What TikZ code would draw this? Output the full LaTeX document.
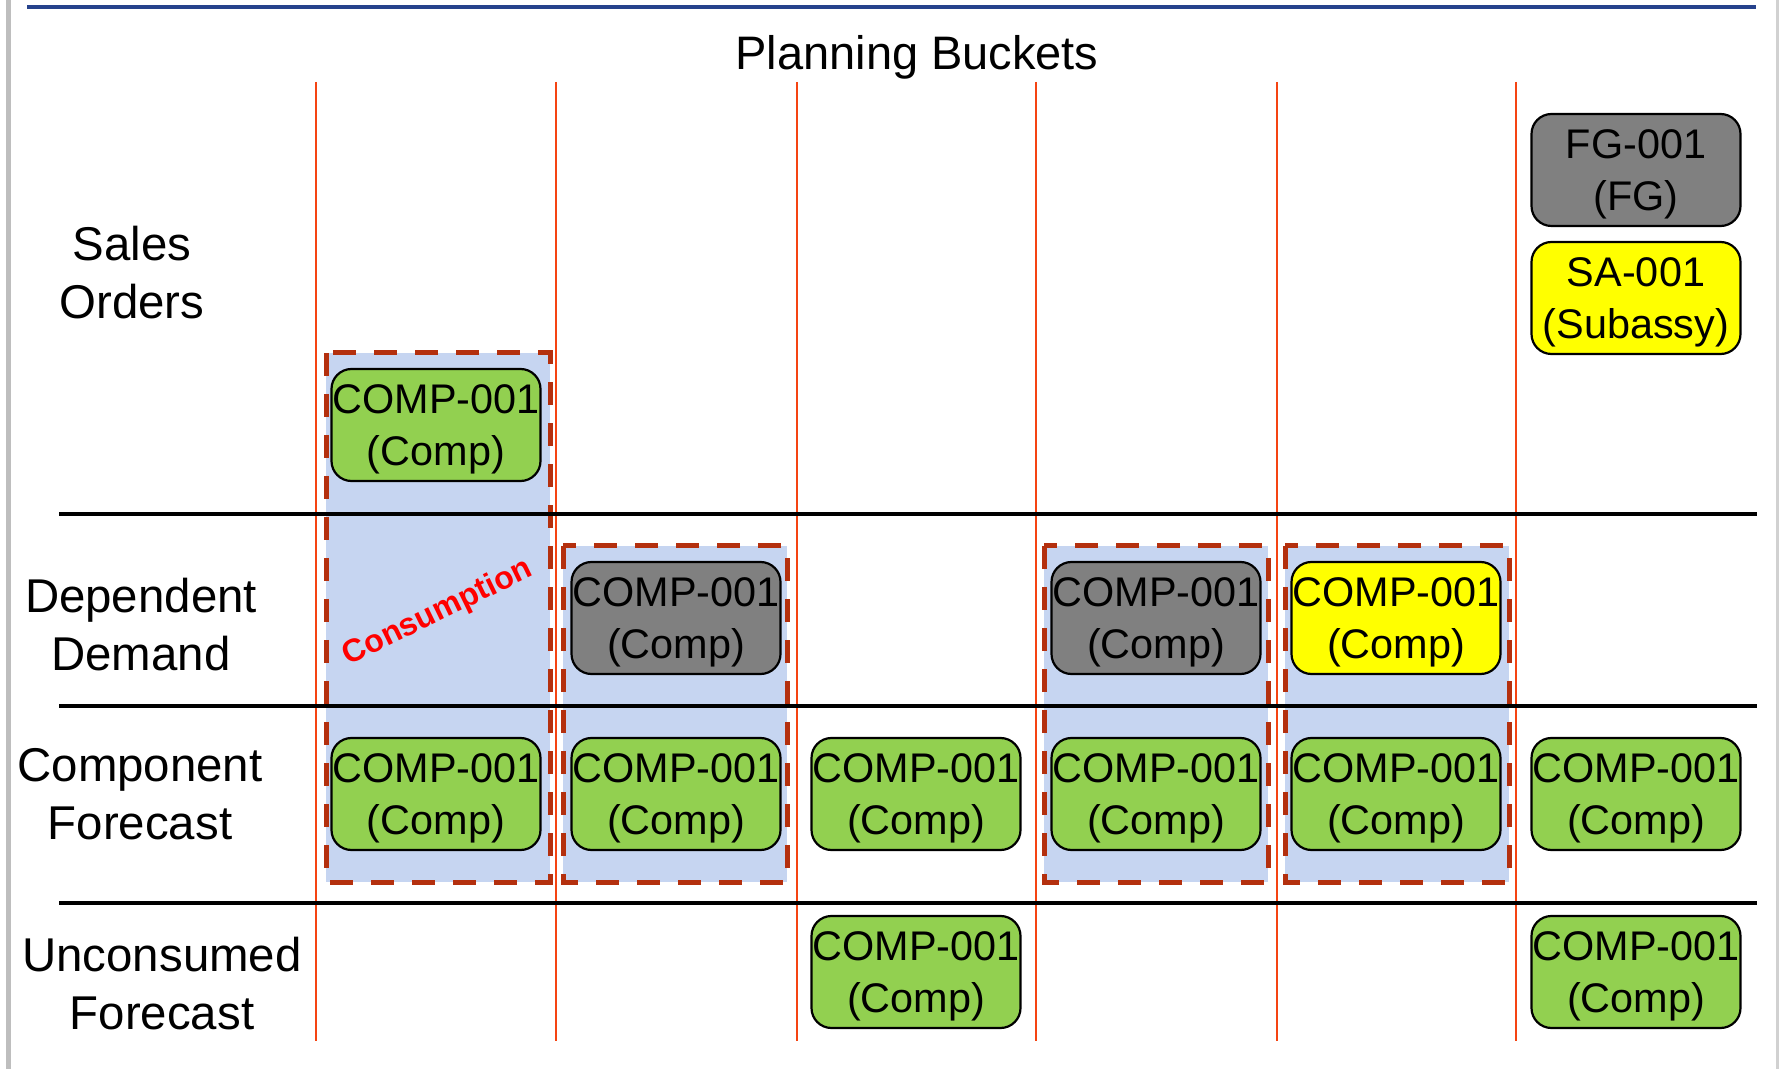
\documentclass[tikz,border=0pt]{standalone}
\usepackage{fontspec}
\setsansfont{Liberation Sans}
\usepackage{tikz}
\pgfdeclarelayer{background}
\pgfsetlayers{background,main}

\definecolor{boxGreen}{RGB}{146,208,80}
\definecolor{boxGray}{RGB}{128,128,128}
\definecolor{boxYellow}{RGB}{255,255,0}
\definecolor{consFill}{RGB}{198,213,241}
\definecolor{consEdge}{RGB}{180,48,14}
\definecolor{gridRed}{RGB}{245,68,18}
\definecolor{topBlue}{RGB}{38,66,140}
\definecolor{frameGray}{RGB}{190,190,190}

\begin{document}
\begin{tikzpicture}[x=0.5pt, y=-0.5pt]

    % Sans-serif text
    \sffamily

    % Page frame
    \useasboundingbox (0,0) rectangle (1779,1069);

    % Title and row labels
    \tikzset{tT/.style={anchor=base, font=\fontsize{23.5}{28}\selectfont}}
    \tikzset{rL/.style={align=center, text depth=0pt, font=\fontsize{23.7}{29}\selectfont}}

    % Order boxes
    \tikzset{bX/.style={draw=black, line width=1.1pt, rounded corners=10pt, inner sep=0pt,
        minimum width=104.5pt, minimum height=56pt, align=center, text depth=0pt,
        execute at begin node={\rule{0pt}{22pt}},
        font=\fontsize{20.7}{26}\selectfont}}
    \tikzset{bG/.style={bX, fill=boxGreen}}
    \tikzset{bK/.style={bX, fill=boxGray}}
    \tikzset{bY/.style={bX, fill=boxYellow}}

    % Consumption areas
    \tikzset{cR/.style={fill=consFill, draw=consEdge, line width=2.5pt, dash pattern=on 11.5pt off 9pt}}
    \tikzset{cT/.style={rotate=26, text=red, font=\bfseries\fontsize{16}{19}\selectfont}}

    % Grid lines
    \tikzset{gV/.style={draw=gridRed, line width=1pt}}
    \tikzset{gH/.style={draw=black, line width=1.6pt}}

    % Labels
    \node (title) [tT] at (917, 70) {Planning Buckets};
    \node (lSO) [rL] at (132, 272) {Sales\\Orders};
    \node (lDD) [rL] at (141, 624) {Dependent\\Demand};
    \node (lCF) [rL] at (140, 794) {Component\\Forecast};
    \node (lUF) [rL] at (162, 983) {Unconsumed\\Forecast};

    % Sales orders
    \node (fg) [bK] at (1636, 170) {FG-001\\(FG)};
    \node (sa) [bY] at (1636, 298) {SA-001\\(Subassy)};
    \node (so1) [bG] at (436, 425) {COMP-001\\(Comp)};

    % Dependent demand
    \node (dd2) [bK] at (676, 618) {COMP-001\\(Comp)};
    \node (dd4) [bK] at (1156, 618) {COMP-001\\(Comp)};
    \node (dd5) [bY] at (1396, 618) {COMP-001\\(Comp)};

    % Component forecast
    \node (cf1) [bG] at (436, 794) {COMP-001\\(Comp)};
    \node (cf2) [bG] at (676, 794) {COMP-001\\(Comp)};
    \node (cf3) [bG] at (916, 794) {COMP-001\\(Comp)};
    \node (cf4) [bG] at (1156, 794) {COMP-001\\(Comp)};
    \node (cf5) [bG] at (1396, 794) {COMP-001\\(Comp)};
    \node (cf6) [bG] at (1636, 794) {COMP-001\\(Comp)};

    % Unconsumed forecast
    \node (uf3) [bG] at (916, 972) {COMP-001\\(Comp)};
    \node (uf6) [bG] at (1636, 972) {COMP-001\\(Comp)};

    % Consumption label
    \node (cons) [cT] at (438, 613) {Consumption};

    % Background image
    \begin{pgfonlayer}{background}

    	% Frame
    	\path[draw=frameGray, line width=2.5pt] (8.5,0) -- (8.5,1069);
    	\path[draw=frameGray!70, line width=1.5pt] (1777.5,0) -- (1777.5,1069);
    	\path[draw=topBlue, line width=1.6pt] (27,7) -- (1756,7);

    	% Consumption areas
    	\path[cR] (326,353) rectangle (550,882);
    	\path[cR] (563,546) rectangle (787,882);
    	\path[cR] (1044,546) rectangle (1268,882);
    	\path[cR] (1285,546) rectangle (1509,882);

    	% Buckets
    	\foreach \x in {315.5, 556, 796.5, 1036, 1276.5, 1516}
    		\path[gV] (\x,82) -- (\x,1041);

    	% Rows
    	\path[gH] (59,514) -- (1757,514);
    	\path[gH] (59,706) -- (1757,706);
    	\path[gH] (59,903) -- (1757,903);

    \end{pgfonlayer}

\end{tikzpicture}
\end{document}
